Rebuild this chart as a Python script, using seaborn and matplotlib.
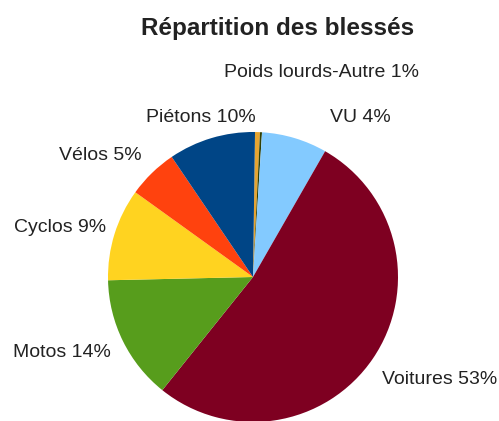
import matplotlib
matplotlib.use("Agg")
import matplotlib.pyplot as plt
import seaborn as sns

sns.set_theme(style="white")
plt.rcParams['font.family'] = ['Liberation Sans', 'DejaVu Sans']

# shares (clockwise from the top)
categories = ['Poids lourds-Autre', 'Poids lourds (trait)', 'VU', 'Voitures',
              'Motos', 'Cyclos', 'Vélos', 'Piétons']
shares = [0.55, 0.22, 7.3, 52.5, 13.9, 10.3, 5.6, 9.7]
# labels as printed on the chart
label_texts = ['Poids lourds-Autre 1%', '', 'VU 4%', 'Voitures 53%',
               'Motos 14%', 'Cyclos 9%', 'Vélos 5%', 'Piétons 10%']
colors = ['#e6a532', '#314004', '#83caff', '#7e0021',
          '#579d1c', '#ffd320', '#ff420e', '#004586']

# label anchors, in pie-radius units
label_pos = [(0.47, 1.41), None, (0.74, 1.10), (1.29, -0.71),
             (-1.32, -0.52), (-1.33, 0.34), (-1.05, 0.84), (-0.36, 1.10)]

fig = plt.figure(figsize=(4.99, 4.21), dpi=100)
ax = fig.add_axes([0, 0, 1, 1])

ax.pie(shares, colors=colors, startangle=89.2, counterclock=False,
       wedgeprops={'linewidth': 0})

for txt, pos in zip(label_texts, label_pos):
    if pos is None:
        continue
    ax.text(pos[0], pos[1], txt, ha='center', va='center',
            fontsize=14, color='#222222')

# pie centre at (253, 277) px, radius 145 px
r = 145
ax.set_xlim(-253 / r, (499 - 253) / r)
ax.set_ylim((277 - 421) / r, 277 / r)
ax.set_aspect('auto')
ax.axis('off')

fig.text(278 / 499, 1 - 28 / 421, 'Répartition des blessés', ha='center',
         va='center', fontsize=17.5, fontweight='bold', color='#222222')

fig.savefig('out.png', dpi=100)
